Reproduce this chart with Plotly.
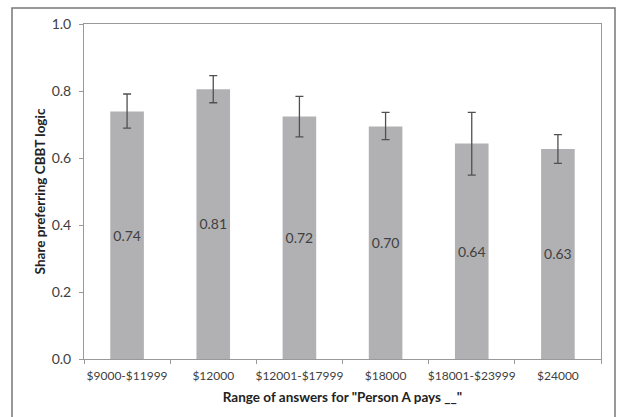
import plotly.graph_objects as go

categories = ["$9000-$11999", "$12000", "$12001-$17999", "$18000", "$18001-$23999", "$24000"]
shares = [0.739, 0.805, 0.724, 0.694, 0.643, 0.627]
err_upper = [0.791, 0.846, 0.784, 0.736, 0.736, 0.670]
err_lower = [0.689, 0.765, 0.663, 0.655, 0.549, 0.584]
labels = ["0.74", "0.81", "0.72", "0.70", "0.64", "0.63"]
y_ticks = [0.0, 0.2, 0.4, 0.6, 0.8, 1.0]

plus = [u - v for u, v in zip(err_upper, shares)]
minus = [v - l for v, l in zip(shares, err_lower)]

FONT = "Lato"
TXT = "#404040"

fig = go.Figure()
fig.add_trace(go.Bar(
    x=categories, y=shares,
    marker=dict(color="#b1b1b4", line=dict(width=0)),
    text=labels, textposition="inside", insidetextanchor="middle",
    textfont=dict(family=FONT, size=14.5, color=TXT),
    textangle=0,
    error_y=dict(type="data", symmetric=False, array=plus, arrayminus=minus,
                 color="#505050", thickness=1.3, width=4),
))

fig.update_layout(
    width=619, height=417,
    margin=dict(l=84, r=18, t=24, b=58),
    paper_bgcolor="white", plot_bgcolor="white",
    bargap=0.61,
    showlegend=False,
    font=dict(family=FONT, color=TXT),
    xaxis=dict(
        type="category",
        showline=True, linecolor="#999999", linewidth=1, mirror=True,
        ticks="outside", tickson="boundaries", ticklen=4, tickcolor="#999999",
        tickangle=0, ticklabelstandoff=6,
        tickfont=dict(family=FONT, size=12, color=TXT),
        title=dict(text='<b>Range of answers for "Person A pays __"</b>',
                   font=dict(family=FONT, size=13.5, color="#222222"), standoff=10),
        showgrid=False,
    ),
    yaxis=dict(
        range=[0, 1.0], tickvals=y_ticks, ticktext=[f"{v:.1f}" for v in y_ticks],
        showline=True, linecolor="#999999", linewidth=1, mirror=True,
        ticks="outside", ticklen=4, tickcolor="#999999", ticklabelstandoff=5,
        tickfont=dict(family=FONT, size=14, color=TXT),
        title=dict(text="<b>Share preferring CBBT logic</b>",
                   font=dict(family=FONT, size=13.5, color="#222222"), standoff=2),
        showgrid=False, zeroline=False,
    ),
)

fig.add_shape(type="rect", xref="paper", yref="paper",
              x0=-72/517, x1=(615-84)/517, y0=-(417-358)/335 - 0.01, y1=(359-8)/335,
              line=dict(color="#777777", width=1.5), layer="above")

fig.write_html("out.html", config={"displayModeBar": False},
               post_script="document.body.style.margin='0';document.body.style.overflow='hidden';")
